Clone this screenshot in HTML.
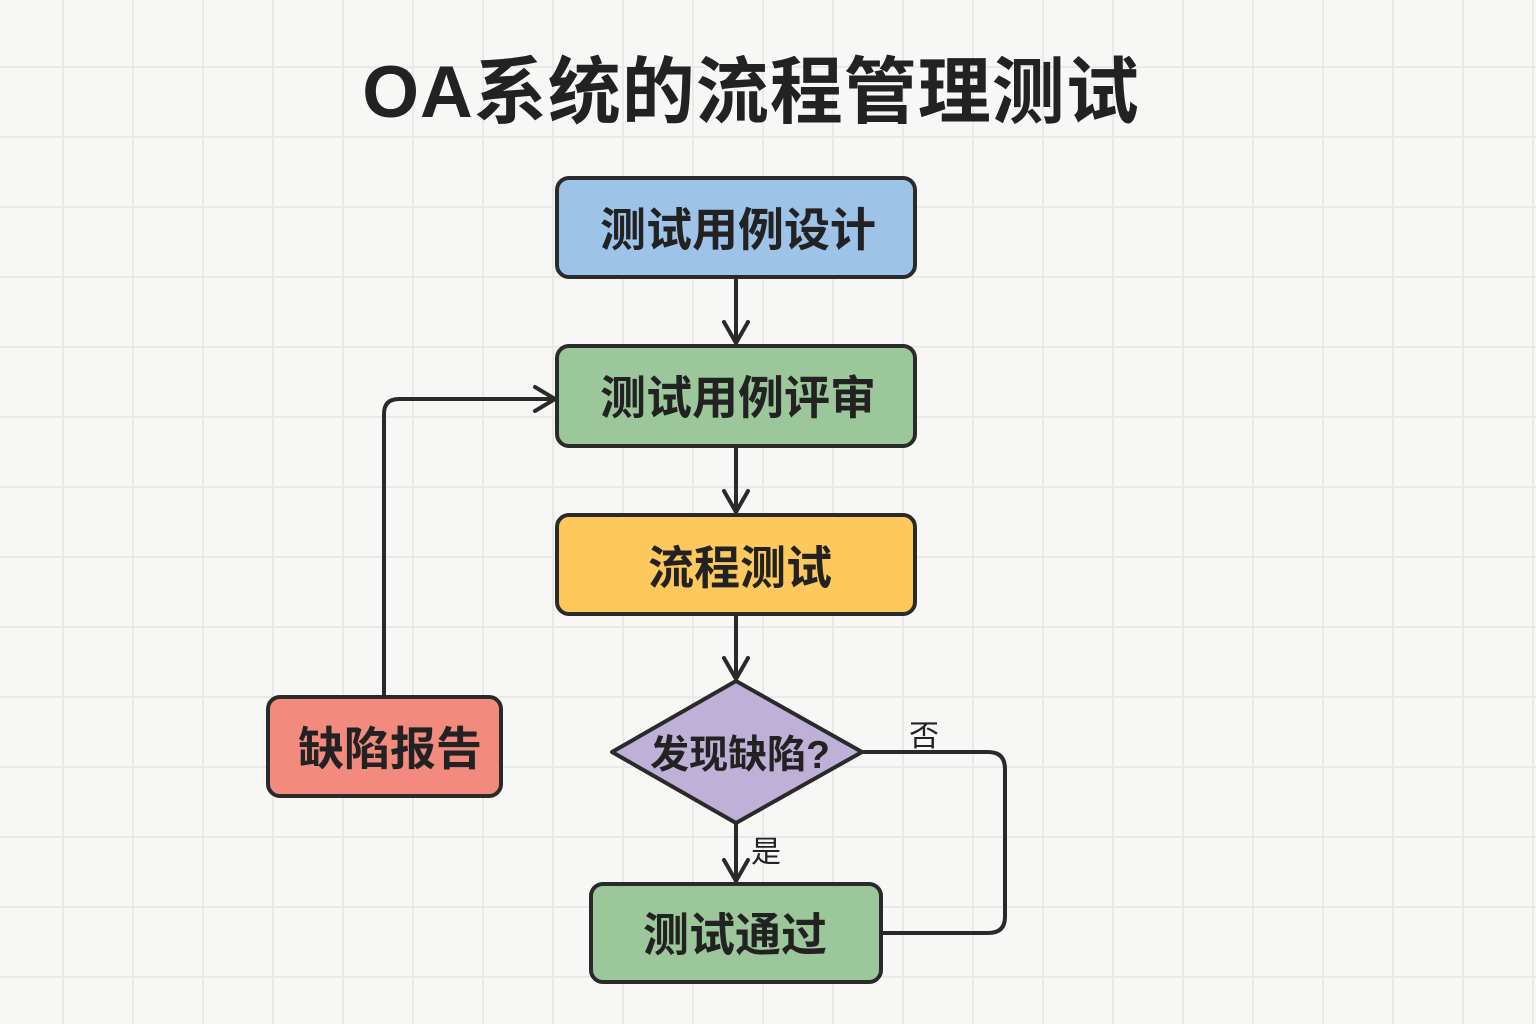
<!DOCTYPE html>
<html><head><meta charset="utf-8"><style>
html,body{margin:0;padding:0}
body{width:1536px;height:1024px;overflow:hidden;background-color:#f7f7f5;
background-image:linear-gradient(to right,#e9e9e7 2px,transparent 2px),linear-gradient(to bottom,#e9e9e7 2px,transparent 2px);
background-size:70px 70px;background-position:62px 66px;
font-family:"Liberation Sans","Noto Sans CJK SC",sans-serif;position:relative}
.t{position:absolute;width:1536px;top:33px;text-align:center;font-size:73px;font-weight:bold;color:#222;letter-spacing:1px}
</style></head><body>
<div class="t" style="left:-17px">OA系统的流程管理测试</div>
<svg width="1536" height="1024" style="position:absolute;left:0;top:0" font-family="Liberation Sans,Noto Sans CJK SC,sans-serif">
<g stroke="#2a2a2a" stroke-width="4" fill="none" stroke-linecap="round" stroke-linejoin="round">
<line x1="736" y1="278" x2="736" y2="343"/><polyline points="724,322 736,343 748,322"/>
<line x1="736" y1="447" x2="736" y2="512"/><polyline points="724,491 736,512 748,491"/>
<line x1="736" y1="615" x2="736" y2="679"/><polyline points="724,658 736,679 748,658"/>
<line x1="736" y1="824" x2="736" y2="881"/><polyline points="724,860 736,881 748,860"/>
<path d="M384,697 V414 Q384,399 399,399 H555"/><polyline points="535,387 555,399 535,411"/>
<path d="M862,752 H988 Q1005,752 1005,769 V917 Q1005,933 988,933 H882"/>
</g>
<g stroke="#2a2a2a" stroke-width="4">
<rect x="557" y="178" width="358" height="99" rx="12" fill="#9dc3e8"/>
<rect x="557" y="346" width="358" height="100" rx="12" fill="#9cc79a"/>
<rect x="557" y="515" width="358" height="99" rx="12" fill="#fdc95c"/>
<rect x="268" y="697" width="233" height="99" rx="12" fill="#f28b7e"/>
<rect x="591" y="884" width="290" height="98" rx="12" fill="#9cc79a"/>
<polygon points="736,681 862,752 736,823 612,752" fill="#bfb0d8" stroke-linejoin="round"/>
</g>
<g fill="#222" font-size="46" font-weight="bold" text-anchor="middle">
<text x="738" y="246">测试用例设计</text>
<text x="738" y="414">测试用例评审</text>
<text x="740" y="584">流程测试</text>
<text x="390" y="765">缺陷报告</text>
<text x="735" y="951">测试通过</text>
<text x="740" y="768" font-size="39">发现缺陷?</text>
<text x="924" y="746" font-size="30" font-weight="normal">否</text>
<text x="766" y="862" font-size="30" font-weight="normal">是</text>
</g>
</svg>
</body></html>
